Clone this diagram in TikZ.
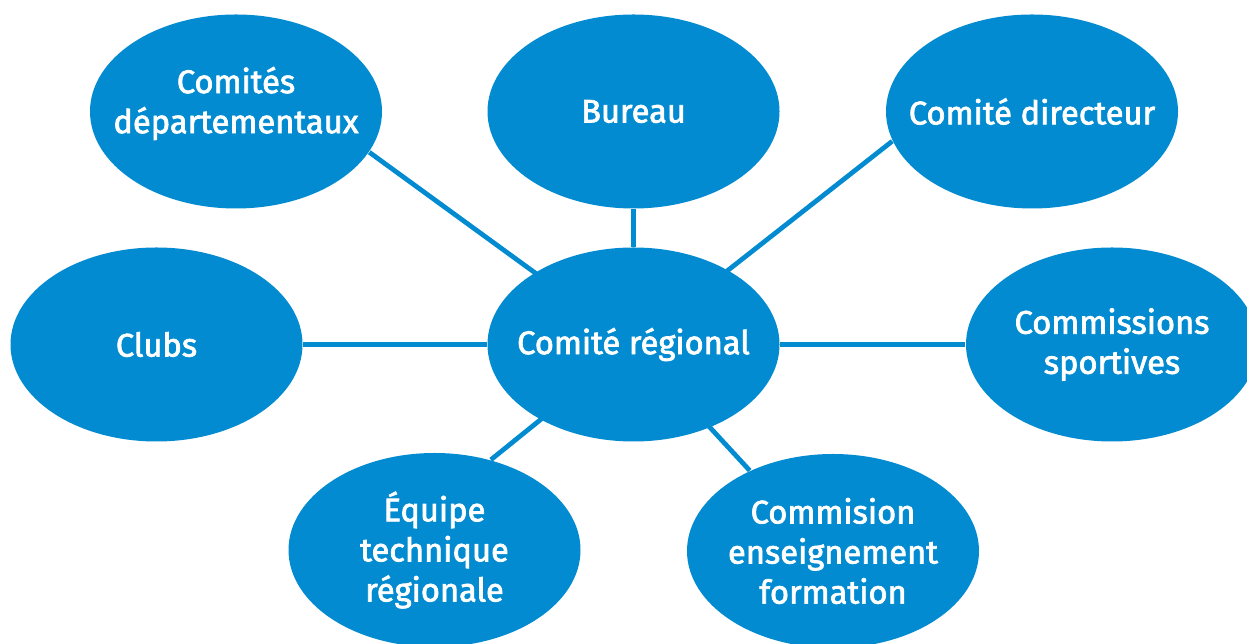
\documentclass[tikz,border=0pt]{standalone}
\usepackage{fontspec}
\newfontfamily\bubblefont{Fira Sans}[FakeBold=2.2]
\usepackage{tikz}
\usetikzlibrary{shapes.geometric,backgrounds}
\definecolor{bubbleblue}{RGB}{2,139,209}
\tikzset{
    bubble/.style={ellipse, fill=bubbleblue, minimum width=2.92cm, minimum height=1.94cm, inner sep=0pt},
    txt/.style={text=white, align=center, font=\bubblefont\fontsize{9.3}{11.4}\selectfont},
    link/.style={draw=bubbleblue, line width=1.35pt}
}

\begin{document}
\begin{tikzpicture}
                                \useasboundingbox (0,0) rectangle (12.47,6.44);
                                \node[bubble, label={[txt]center:Comité régional}] (hub) at (6.335, 2.995) {};
                                \node[bubble, label={[txt, yshift=0.08cm]center:Comités\\départementaux}] (dep) at (2.36, 5.325) {};
                                \node[bubble, label={[txt]center:Bureau}] (bur) at (6.335, 5.325) {};
                                \node[bubble, label={[txt]center:Comité directeur}] (dir) at (10.32, 5.325) {};
                                \node[bubble, label={[txt]center:Clubs}] (clubs) at (1.565, 2.995) {};
                                \node[bubble, label={[txt]center:Commissions\\sportives}] (comm) at (11.12, 2.995) {};
                                \node[bubble, label={[txt]center:Équipe\\technique\\régionale}] (etr) at (4.345, 0.94) {};
                                \node[bubble, label={[txt]center:Commision\\enseignement\\formation}] (cef) at (8.33, 0.93) {};
                                \begin{scope}[on background layer]
                                \draw[link] (hub.center) -- (dep.-17);
                                \draw[link] (hub) -- (bur);
                                \draw[link] (hub.center) -- (dir.-168);
                                \draw[link] (hub) -- (clubs);
                                \draw[link] (hub) -- (comm);
                                \draw[link] (hub.center) -- (etr.58);
                                \draw[link] (hub.center) -- (cef.136);
                                \end{scope}
                            \end{tikzpicture}
\end{document}
